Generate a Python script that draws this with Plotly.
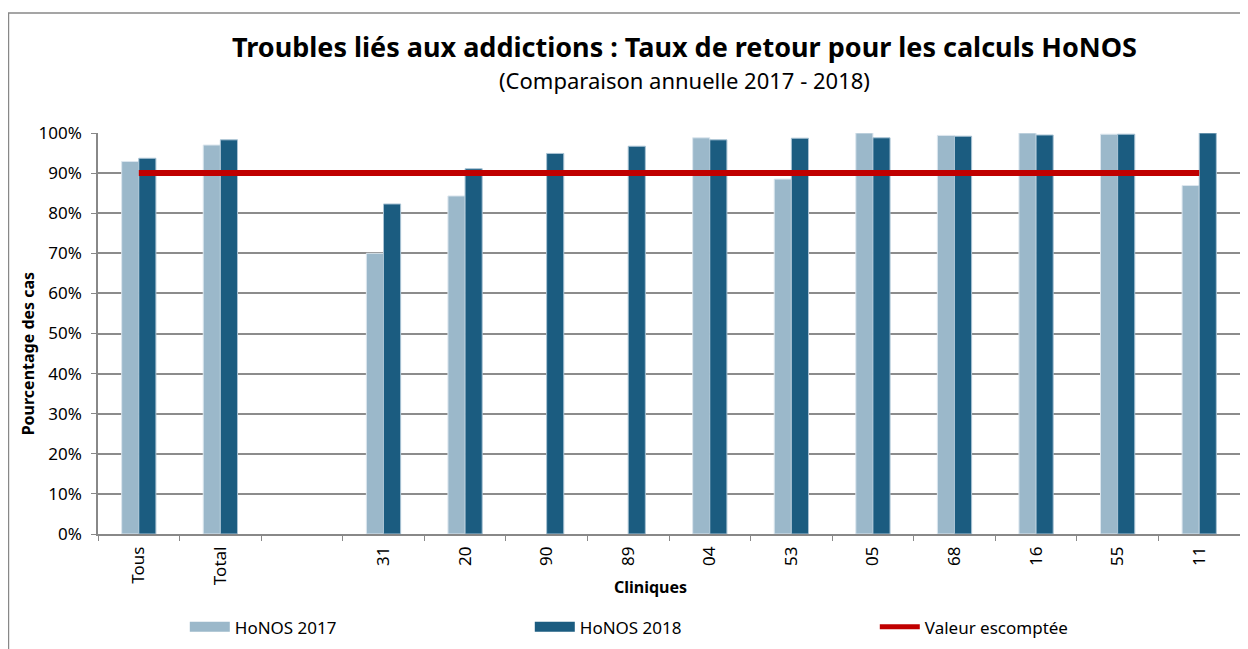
import plotly.graph_objects as go

# categories along the x axis (one empty slot after "Total")
cliniques = ["Tous", "Total", " ", "31", "20", "90", "89", "04", "53", "05", "68", "16", "55", "11"]

# return rates in percent
honos_2017 = [92.9, 97.0, None, 70.0, 84.3, None, None, 98.8, 88.5, 100.0, 99.4, 100.0, 99.7, 86.9]
honos_2018 = [93.7, 98.3, None, 82.3, 91.1, 94.9, 96.7, 98.3, 98.7, 98.8, 99.2, 99.5, 99.7, 100.0]
valeur_escomptee = [90] * len(cliniques)

y_ticks = [0, 10, 20, 30, 40, 50, 60, 70, 80, 90, 100]
y_labels = [f"{v}%" for v in y_ticks]

c2017 = "#9BB8CA"
c2018 = "#1B5C80"
cred = "#C00000"
grey = "#888888"
font = "Noto Sans"

fig = go.Figure()

fig.add_trace(go.Bar(x=cliniques, y=honos_2017, name="HoNOS 2017",
                     marker=dict(color=c2017, line=dict(color="#DCE6EE", width=1)),
                     showlegend=False))
fig.add_trace(go.Bar(x=cliniques, y=honos_2018, name="HoNOS 2018",
                     marker=dict(color=c2018, line=dict(color="#A9C3D4", width=1)),
                     showlegend=False))
fig.add_trace(go.Scatter(x=cliniques, y=valeur_escomptee, name="Valeur escomptée",
                         mode="lines", line=dict(color=cred, width=6),
                         showlegend=False))

# legend entries drawn as wide swatches
for nm, col in [("HoNOS 2017", c2017), ("HoNOS 2018", c2018), ("Valeur escomptée", cred)]:
    fig.add_trace(go.Scatter(x=[None], y=[None], name=nm, mode="lines",
                             line=dict(color=col, width=10 if nm != "Valeur escomptée" else 5)))

fig.update_layout(
    width=1248, height=649,
    paper_bgcolor="white", plot_bgcolor="white",
    margin=dict(l=90, r=16, t=125, b=120),
    barmode="group", bargap=0.58, bargroupgap=0,
    font=dict(family=font, size=17, color="#000000"),
    legend=dict(orientation="h", x=0.076, y=-0.2327, xanchor="left", yanchor="middle",
                entrywidth=290, entrywidthmode="pixels", font=dict(size=17),
                itemwidth=40),
    xaxis=dict(
        type="category", tickangle=-90, tickson="boundaries", automargin=False,
        ticks="outside", ticklen=5, tickcolor=grey,
        showline=True, linecolor=grey, linewidth=1.5,
        tickfont=dict(size=17), ticklabelstandoff=4,
    ),
    yaxis=dict(
        range=[0, 100], tickvals=y_ticks, ticktext=y_labels, automargin=False,
        showgrid=True, gridcolor="#8C8C8C", gridwidth=1.5,
        showline=True, linecolor=grey, linewidth=1.5,
        ticks="outside", ticklen=5, tickcolor=grey,
        tickfont=dict(size=17), ticklabelstandoff=6,
    ),
    annotations=[
        dict(text="<b>Troubles liés aux addictions : Taux de retour pour les calculs HoNOS</b>",
             xref="paper", yref="paper", x=0.514, y=1.2153, xanchor="center", yanchor="middle",
             showarrow=False, font=dict(size=27, family=font)),
        dict(text="(Comparaison annuelle 2017 - 2018)",
             xref="paper", yref="paper", x=0.514, y=1.1312, xanchor="center", yanchor="middle",
             showarrow=False, font=dict(size=22, family=font)),
        dict(text="<b>Cliniques</b>", xref="paper", yref="paper", x=0.4834, y=-0.131,
             xanchor="center", yanchor="middle",
             showarrow=False, font=dict(size=16, family=font)),
        dict(text="<b>Pourcentage des cas</b>", xref="paper", yref="paper", x=-0.0613, y=0.4505,
             xanchor="center", yanchor="middle",
             textangle=-90, showarrow=False, font=dict(size=16, family=font)),
    ],
    shapes=[
        dict(type="rect", xref="paper", yref="paper", x0=-0.0784, x1=1.013, y0=-0.35, y1=1.2995,
             line=dict(color=grey, width=1.5), fillcolor="rgba(0,0,0,0)", layer="below"),
    ],
)

fig.write_html("out.html")
